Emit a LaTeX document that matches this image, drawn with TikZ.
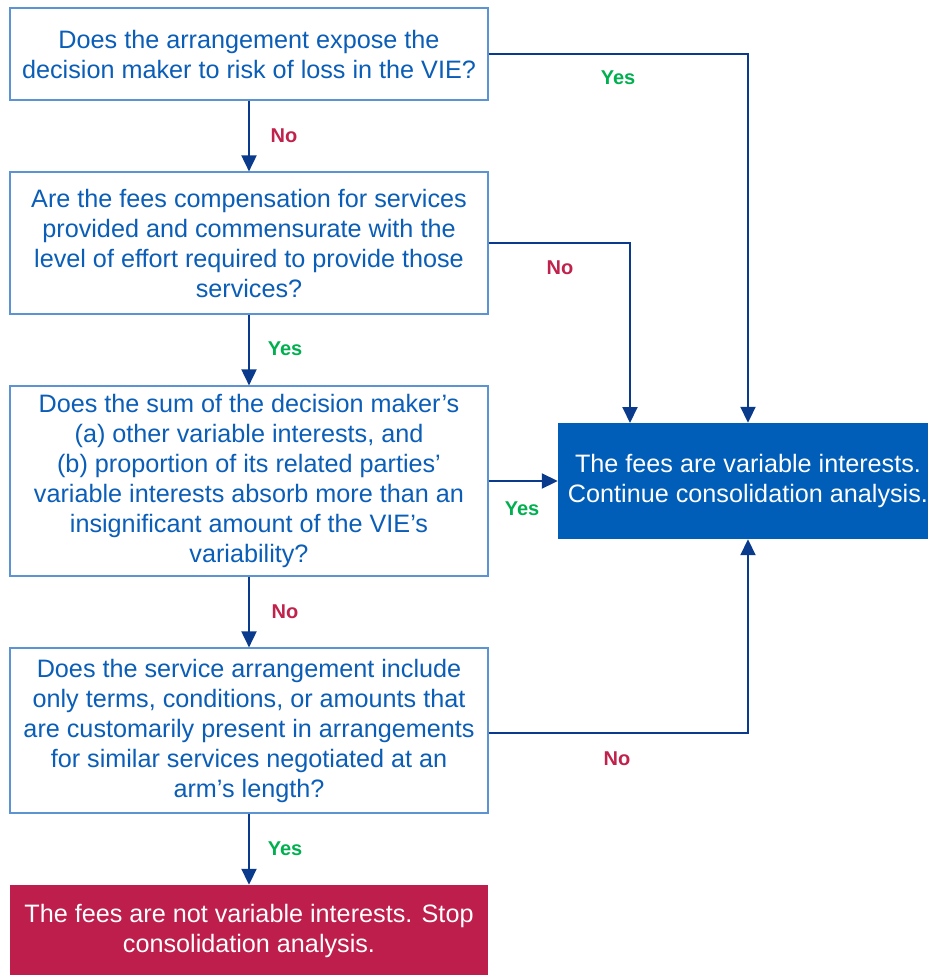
\documentclass[tikz,border=0pt]{standalone}
\usepackage{fontspec}
\setmainfont{Liberation Sans}
\usetikzlibrary{arrows.meta}
\definecolor{txtblue}{HTML}{0A5EB8}
\definecolor{bordblue}{HTML}{5B93D3}
\definecolor{arrblue}{HTML}{0A3A8C}
\definecolor{fillblue}{HTML}{005EB8}
\definecolor{fillred}{HTML}{BE1E4B}
\definecolor{yesgreen}{HTML}{00B050}
\definecolor{nored}{HTML}{C0224C}
\tikzset{
  qbox/.style={draw=bordblue, line width=1.2pt, fill=white, text=txtblue, align=center,
    minimum width=478pt, inner sep=0pt, font=\fontsize{25.2}{30}\selectfont},
  resbox/.style={align=center, inner sep=0pt, text=white, font=\fontsize{25.2}{30}\selectfont},
  arr/.style={draw=arrblue, line width=1.9pt, -{Triangle[length=16pt,width=15pt]}},
  yeslab/.style={text=yesgreen, font=\fontsize{20}{22}\selectfont\bfseries},
  nolab/.style={text=nored, font=\fontsize{20}{22}\selectfont\bfseries},
}
\begin{document}
\begin{tikzpicture}[x=1pt,y=-1pt]
\useasboundingbox (0,0) rectangle (928,975);
\fill[white] (0,0) rectangle (928,975);
\node[qbox, minimum height=92pt] (b1) at (249,54) {Does the arrangement expose the\\decision maker to risk of loss in the VIE?};
\node[qbox, minimum height=142pt] (b2) at (249,243) {Are the fees compensation for services\\provided and commensurate with the\\level of effort required to provide those\\services?};
\node[qbox, minimum height=190pt] (b3) at (249,481) {Does the sum of the decision maker’s\\(a) other variable interests, and\\(b) proportion of its related parties’\\variable interests absorb more than an\\insignificant amount of the VIE’s\\variability?};
\node[qbox, minimum height=165pt] (b4) at (249,730.5) {Does the service arrangement include\\only terms, conditions, or amounts that\\are customarily present in arrangements\\for similar services negotiated at an\\arm’s length?};
\node[resbox, fill=fillred, minimum width=478pt, minimum height=92pt] (b5) at (249,931) {};
\node[resbox] (b5t) at (249,931) {The fees are not variable interests. Stop\\consolidation analysis.};
\node[resbox, fill=fillblue, minimum width=380pt, minimum height=116pt] (bl) at (748,481) {};
\node[resbox] (blt) at (748,481) {The fees are variable interests.\\Continue consolidation analysis.};
\coordinate (t630) at (630,423);
\draw[arr] (b1.south) -- (b2.north);
\draw[arr] (b2.south) -- (b3.north);
\draw[arr] (b3.south) -- (b4.north);
\draw[arr] (b4.south) -- (b5.north);
\draw[arr] (b1.east) -| (bl.north);
\draw[arr] (b2.east) -| (t630);
\draw[arr] (b3.east) -- (bl.west |- b3.east);
\draw[arr] ([yshift=-2.5pt]b4.east) -| (bl.south);
\node[nolab] (l1) at (284,136) {No};
\node[yeslab] (l2) at (285,349) {Yes};
\node[nolab] (l3) at (285,612) {No};
\node[yeslab] (l4) at (285,849) {Yes};
\node[yeslab] (l5) at (618,78) {Yes};
\node[nolab] (l6) at (560,268) {No};
\node[yeslab] (l7) at (522,509) {Yes};
\node[nolab] (l8) at (617,759) {No};
\end{tikzpicture}
\end{document}
